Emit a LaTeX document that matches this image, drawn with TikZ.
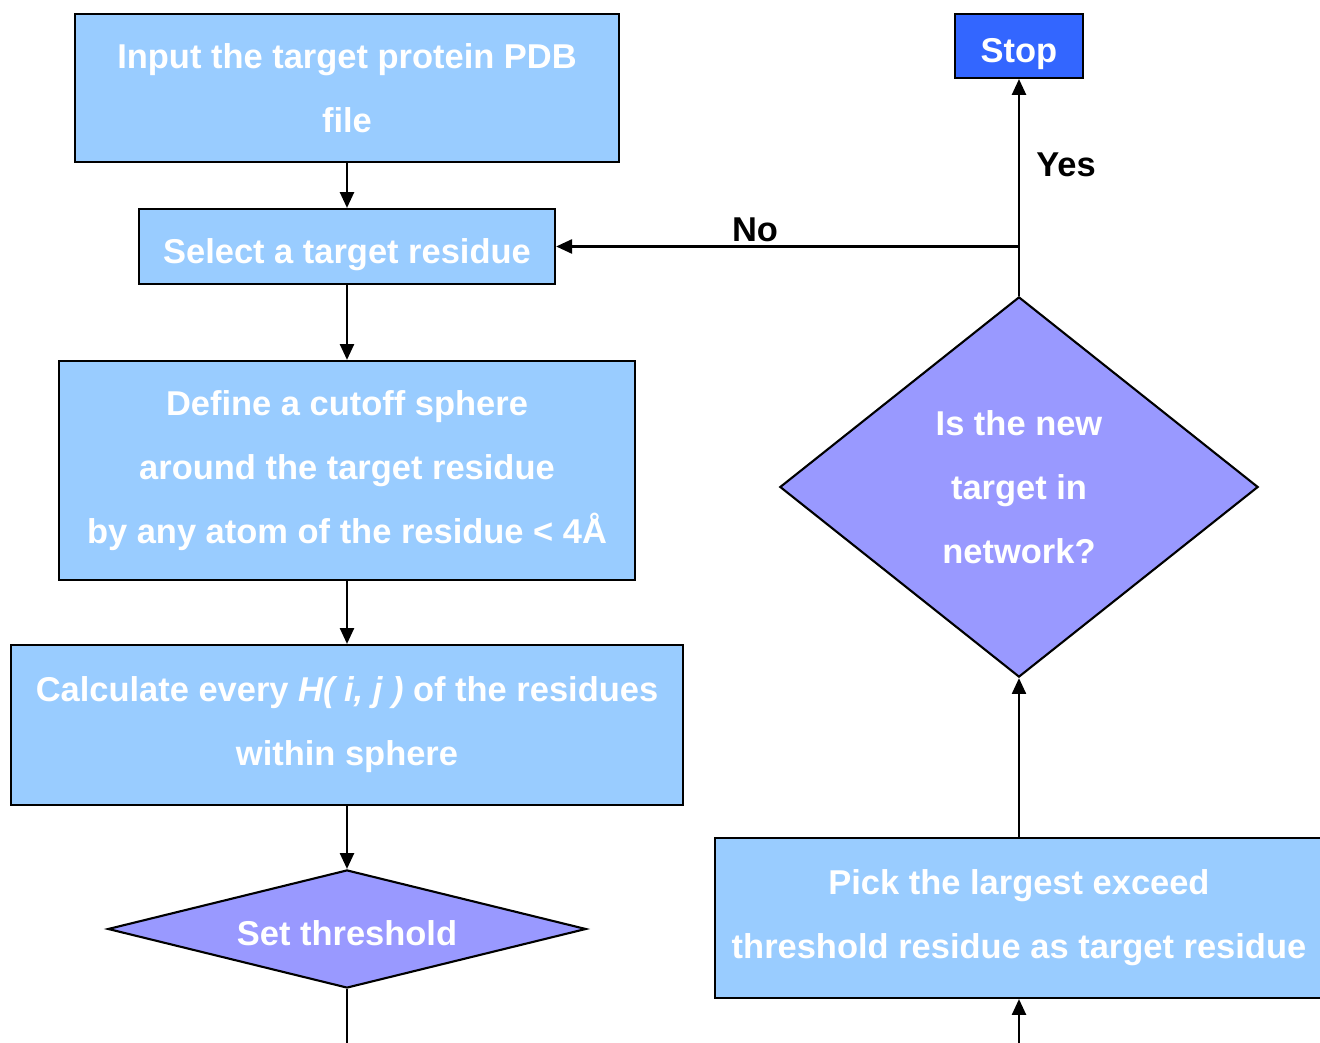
\documentclass[tikz,border=0pt]{standalone}
\usepackage{fontspec}
\setmainfont{Liberation Sans}
\usetikzlibrary{arrows.meta,positioning,shapes.geometric}
\definecolor{boxblue}{HTML}{99CCFF}
\definecolor{decviolet}{HTML}{9999FF}
\definecolor{stopblue}{HTML}{3366FF}

\begin{document}
\begin{tikzpicture}[x=0.01cm,y=-0.01cm,
  stepbox/.style={rectangle,draw=black,line width=0.6pt,fill=boxblue,
                  text=white,font=\fontsize{9.8pt}{18.2pt}\selectfont\bfseries,
                  align=center,inner sep=0pt},
  decision/.style={diamond,draw=black,line width=0.6pt,fill=decviolet,
                   text=white,font=\fontsize{9.8pt}{18.2pt}\selectfont\bfseries,
                   align=center,inner sep=0pt},
  lowtext/.style={text height=10.6pt,text depth=1pt},
  answer/.style={font=\fontsize{9.8pt}{11pt}\selectfont\bfseries,text=black},
  arr/.style={-{Triangle[length=4.5pt,width=4pt]},line width=0.6pt,draw=black}
]
  \useasboundingbox (0,0) rectangle (1320,1043);

  % ---- Left column: main steps -------------------------------
  \node[stepbox,minimum width=5.44cm,minimum height=1.48cm]
    (input) at (347,88) {Input the target protein PDB\\file};
  \node[stepbox,lowtext,minimum width=4.16cm,minimum height=0.75cm]
    (select) at (347,246.5) {Select a target residue};
  \node[stepbox,minimum width=5.76cm,minimum height=2.19cm]
    (define) at (347,470.5) {Define a cutoff sphere\\around the target residue\\by any atom of the residue < 4Å};
  \node[stepbox,minimum width=6.72cm,minimum height=1.60cm]
    (calc) at (347,725) {Calculate every \textit{H( i, j )} of the residues\\within sphere};
  \node[decision,lowtext,aspect=4.05,minimum width=4.78cm,minimum height=1.18cm]
    (thresh) at (347,929) {Set threshold};

  % ---- Right column: loop back -------------------------------
  \node[stepbox,lowtext,fill=stopblue,minimum width=1.28cm,minimum height=0.64cm]
    (stop) at (1019,46) {Stop};
  \node[decision,aspect=1.26,minimum width=4.78cm,minimum height=3.80cm]
    (netq) at (1019,487) {Is the new\\target in\\network?};
  \node[stepbox,minimum width=6.08cm,minimum height=1.60cm]
    (pick) at (1019,918) {Pick the largest exceed\\threshold residue as target residue};

  \coordinate (lowL) at (347,1050);
  \coordinate (lowR) at (1019,1050);
  \coordinate (jn) at (netq.north |- select.east);

  % ---- Connectors --------------------------------------------
  \draw[arr] (input) -- (select);
  \draw[arr] (select) -- (define);
  \draw[arr] (define) -- (calc);
  \draw[arr] (calc) -- (thresh);
  \draw[line width=0.6pt] (thresh.south) -- (lowL);
  \draw[arr] (lowR) -- (pick.south);
  \draw[arr] (pick.north) -- (netq.south);
  \draw[arr] (netq.north) -- (stop.south);
  \draw[arr] (jn) -- (select.east);

  % ---- Answer labels -----------------------------------------
  \node[answer] (yes) at (1066,165) {Yes};
  \node[answer] (no) at (755,230) {No};
\end{tikzpicture}
\end{document}
